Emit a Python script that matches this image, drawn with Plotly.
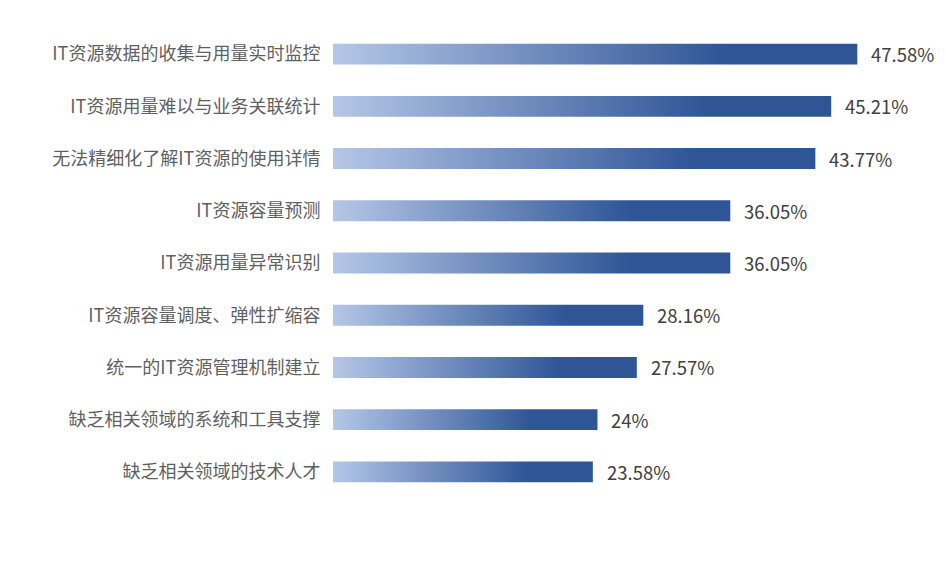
import plotly.graph_objects as go

categories = [
    "IT资源数据的收集与用量实时监控",
    "IT资源用量难以与业务关联统计",
    "无法精细化了解IT资源的使用详情",
    "IT资源容量预测",
    "IT资源用量异常识别",
    "IT资源容量调度、弹性扩缩容",
    "统一的IT资源管理机制建立",
    "缺乏相关领域的系统和工具支撑",
    "缺乏相关领域的技术人才",
]
values = [47.58, 45.21, 43.77, 36.05, 36.05, 28.16, 27.57, 24, 23.58]
value_labels = [f"{v:g}%" for v in values]

LIGHT = "#b4c7e7"
DARK = "#2f5597"
half = 0.2

fig = go.Figure()
for i, v in enumerate(values):
    fig.add_trace(go.Scatter(
        x=[0, v, v, 0, 0],
        y=[i - half, i - half, i + half, i + half, i - half],
        mode="lines",
        line=dict(width=0),
        fill="toself",
        fillgradient=dict(type="horizontal",
                          colorscale=[[0, LIGHT], [0.75, DARK], [1, DARK]]),
        hoverinfo="skip",
        showlegend=False,
    ))

for i, (v, t) in enumerate(zip(values, value_labels)):
    fig.add_annotation(x=v, y=i, text=t, showarrow=False, xanchor="left",
                       xshift=12, font=dict(size=18.5, color="#404040",
                                            family="Noto Sans CJK SC"))

fig.update_layout(
    width=946, height=563,
    margin=dict(l=333, r=62, t=28, b=65),
    plot_bgcolor="white", paper_bgcolor="white",
    font=dict(family="Noto Sans CJK SC", size=18, color="#595959"),
    xaxis=dict(range=[0, 50], visible=False, fixedrange=True),
    yaxis=dict(range=[len(values) - 0.5, -0.5], tickmode="array",
               tickvals=list(range(len(categories))), ticktext=categories,
               showgrid=False, zeroline=False, showline=False,
               ticks="outside", ticklen=8, tickcolor="rgba(0,0,0,0)",
               tickfont=dict(size=18, color="#5f5f5f")),
)

fig.write_html("out.html")
